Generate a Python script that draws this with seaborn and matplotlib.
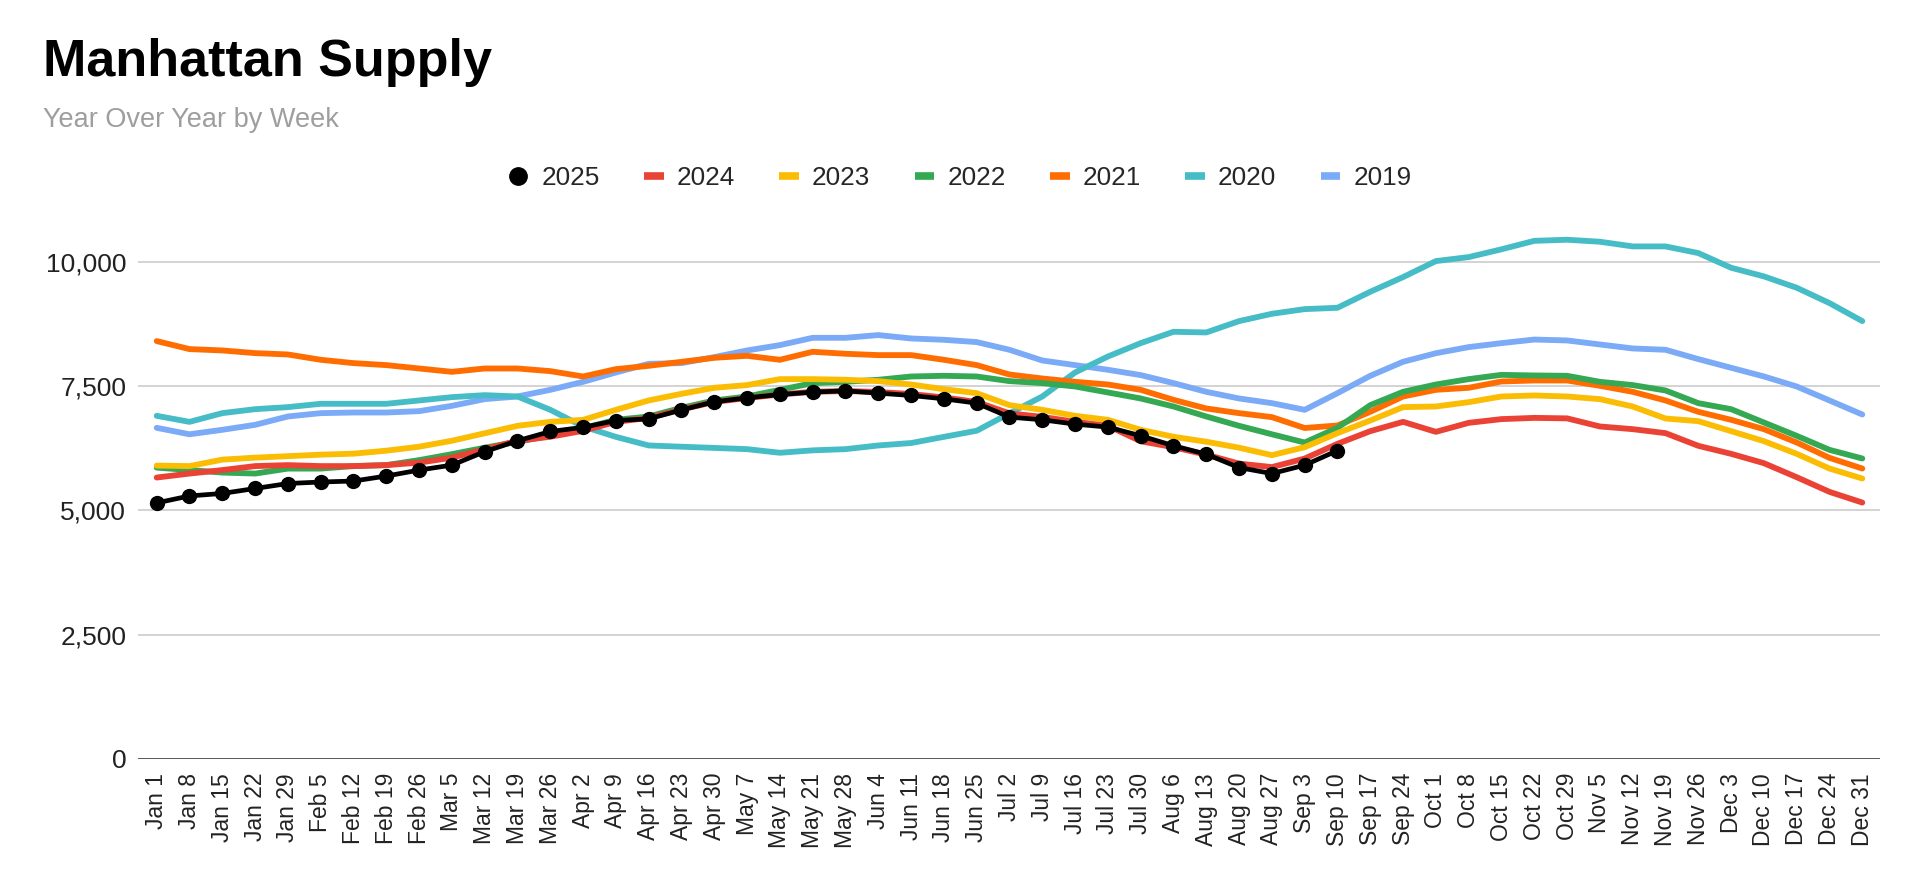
import matplotlib
matplotlib.use("Agg")
import matplotlib.pyplot as plt
import numpy as np
import pandas as pd
import seaborn as sns
from matplotlib.lines import Line2D

weeks = ["Jan 1", "Jan 8", "Jan 15", "Jan 22", "Jan 29", "Feb 5", "Feb 12", "Feb 19", "Feb 26",
         "Mar 5", "Mar 12", "Mar 19", "Mar 26", "Apr 2", "Apr 9", "Apr 16", "Apr 23", "Apr 30",
         "May 7", "May 14", "May 21", "May 28", "Jun 4", "Jun 11", "Jun 18", "Jun 25", "Jul 2",
         "Jul 9", "Jul 16", "Jul 23", "Jul 30", "Aug 6", "Aug 13", "Aug 20", "Aug 27", "Sep 3",
         "Sep 10", "Sep 17", "Sep 24", "Oct 1", "Oct 8", "Oct 15", "Oct 22", "Oct 29", "Nov 5",
         "Nov 12", "Nov 19", "Nov 26", "Dec 3", "Dec 10", "Dec 17", "Dec 24", "Dec 31"]

y2025 = [5150, 5290, 5340, 5440, 5540, 5570, 5590, 5690, 5810, 5910, 6180, 6400, 6586, 6670,
         6807, 6840, 7020, 7183, 7263, 7330, 7378, 7404, 7357, 7310, 7243, 7156, 6875, 6821,
         6734, 6674, 6500, 6300, 6130, 5860, 5740, 5909, 6203]

y2024 = [5660, 5740, 5810, 5890, 5910, 5890, 5890, 5910, 5960, 6060, 6230, 6400, 6480, 6600,
         6780, 6860, 7030, 7180, 7260, 7330, 7384, 7400, 7380, 7340, 7270, 7180, 6950, 6880,
         6780, 6700, 6390, 6270, 6120, 5940, 5870, 6042, 6338, 6593, 6780, 6579, 6760, 6835,
         6860, 6850, 6687, 6633, 6553, 6298, 6137, 5949, 5667, 5372, 5157]

y2023 = [5900, 5890, 6020, 6060, 6090, 6120, 6140, 6200, 6280, 6400, 6550, 6700, 6780, 6820,
         7022, 7210, 7344, 7465, 7519, 7639, 7639, 7626, 7599, 7531, 7437, 7357, 7116, 7022,
         6901, 6821, 6620, 6480, 6380, 6260, 6110, 6271, 6553, 6807, 7076, 7089, 7176, 7290,
         7310, 7290, 7237, 7089, 6847, 6794, 6593, 6392, 6137, 5841, 5640]

y2022 = [5860, 5810, 5760, 5740, 5840, 5840, 5890, 5910, 6010, 6130, 6260, 6380, 6500, 6650,
         6821, 6888, 7062, 7210, 7290, 7424, 7559, 7585, 7626, 7692, 7706, 7692, 7599, 7559,
         7491, 7371, 7250, 7089, 6888, 6700, 6530, 6364, 6660, 7116, 7384, 7531, 7639, 7725,
         7713, 7706, 7585, 7519, 7411, 7156, 7035, 6767, 6499, 6217, 6043]

y2021 = [8404, 8243, 8216, 8162, 8135, 8028, 7961, 7921, 7853, 7786, 7853, 7853, 7800, 7692,
         7840, 7907, 7987, 8068, 8108, 8028, 8189, 8149, 8122, 8122, 8028, 7921, 7732, 7652,
         7585, 7531, 7424, 7223, 7049, 6955, 6875, 6656, 6707, 6982, 7290, 7424, 7465, 7592,
         7612, 7612, 7505, 7384, 7210, 6982, 6821, 6633, 6365, 6056, 5841]

y2020 = [6901, 6780, 6955, 7035, 7076, 7143, 7143, 7143, 7210, 7277, 7317, 7290, 7022, 6687,
         6478, 6305, 6280, 6256, 6231, 6158, 6207, 6231, 6305, 6354, 6478, 6601, 6950, 7290,
         7773, 8094, 8363, 8591, 8578, 8806, 8953, 9047, 9074, 9396, 9691, 10013, 10093, 10250,
         10420, 10442, 10402, 10308, 10308, 10174, 9879, 9705, 9477, 9168, 8806]

y2019 = [6660, 6530, 6620, 6720, 6888, 6955, 6968, 6968, 6995, 7102, 7237, 7290, 7424, 7585,
         7773, 7947, 7961, 8082, 8216, 8323, 8470, 8470, 8525, 8457, 8430, 8384, 8229, 8014,
         7921, 7827, 7720, 7559, 7384, 7250, 7156, 7022, 7357, 7706, 7988, 8160, 8283, 8363,
         8435, 8417, 8336, 8256, 8229, 8042, 7867, 7693, 7491, 7210, 6928]

years = ["2024", "2023", "2022", "2021", "2020", "2019"]
series = {"2024": y2024, "2023": y2023, "2022": y2022, "2021": y2021,
          "2020": y2020, "2019": y2019}
colors = {"2024": "#ea4335", "2023": "#fbbc04", "2022": "#34a853", "2021": "#ff6d01",
          "2020": "#46bdc6", "2019": "#7baaf7"}

yticks = [0, 2500, 5000, 7500, 10000]
ytick_labels = ["0", "2,500", "5,000", "7,500", "10,000"]

sns.set_theme(style="white")
plt.rcParams['font.family'] = ['Liberation Sans', 'DejaVu Sans']

W, H = 1920, 876
fig = plt.figure(figsize=(W / 100, H / 100), dpi=100)
ax_left, ax_right, ax_bottom, ax_top = 138, 1880, 759, 212
ax = fig.add_axes([ax_left / W, 1 - ax_bottom / H, (ax_right - ax_left) / W, (ax_bottom - ax_top) / H])

rows = []
for yr in years:
    for i, v in enumerate(series[yr]):
        rows.append({"week": i, "supply": v, "year": yr})
df = pd.DataFrame(rows)

for k, yr in enumerate(years[::-1]):
    sub = df[df["year"] == yr]
    sns.lineplot(data=sub, x="week", y="supply", color=colors[yr], linewidth=4.2,
                 ax=ax, legend=False, sort=False, zorder=2 + k * 0.1,
                 solid_joinstyle="round")

sns.lineplot(x=list(range(len(y2025))), y=y2025, color="black", linewidth=3.4,
             marker="o", markersize=11, markeredgewidth=0, ax=ax, zorder=5, legend=False)

ax.set_xlim(-0.57, 52.54)
ax.set_ylim(0, 11000)
ax.set_yticks(yticks)
ax.set_yticklabels(ytick_labels, fontsize=19, color="#222222")
ax.set_xticks(range(len(weeks)))
ax.set_xticklabels(weeks, rotation=90, fontsize=16.5, color="#222222", va="top", ha="center")
ax.tick_params(axis="both", length=0)
ax.tick_params(axis="y", pad=8.5)
ax.tick_params(axis="x", pad=10)
ax.yaxis.grid(True, color="#cccccc", linewidth=1.2, zorder=0)
ax.xaxis.grid(False)
ax.axhline(0, color="#333333", linewidth=1.8, zorder=1)
ax.set_axisbelow(True)
for s in ax.spines.values():
    s.set_visible(False)
ax.set_xlabel("")
ax.set_ylabel("")

fig.text(43 / W, 1 - 76 / H, "Manhattan Supply", fontsize=37.5, fontweight="bold",
         color="black", ha="left", va="baseline")
fig.text(43 / W, 1 - 127 / H, "Year Over Year by Week", fontsize=19.5,
         color="#9e9e9e", ha="left", va="baseline")

handles = [Line2D([], [], marker="o", color="black", linestyle="none", markersize=12.5)]
labels = ["2025"]
for yr in years:
    handles.append(Line2D([], [], color=colors[yr], linewidth=5.5, solid_capstyle="butt"))
    labels.append(yr)
fig.legend(handles, labels, loc="center", bbox_to_anchor=(0.5, 1 - 178 / H), ncol=7,
           frameon=False, fontsize=18.8, handlelength=0.75, handletextpad=0.5,
           columnspacing=1.7)

fig.savefig("out.png", dpi=100)
